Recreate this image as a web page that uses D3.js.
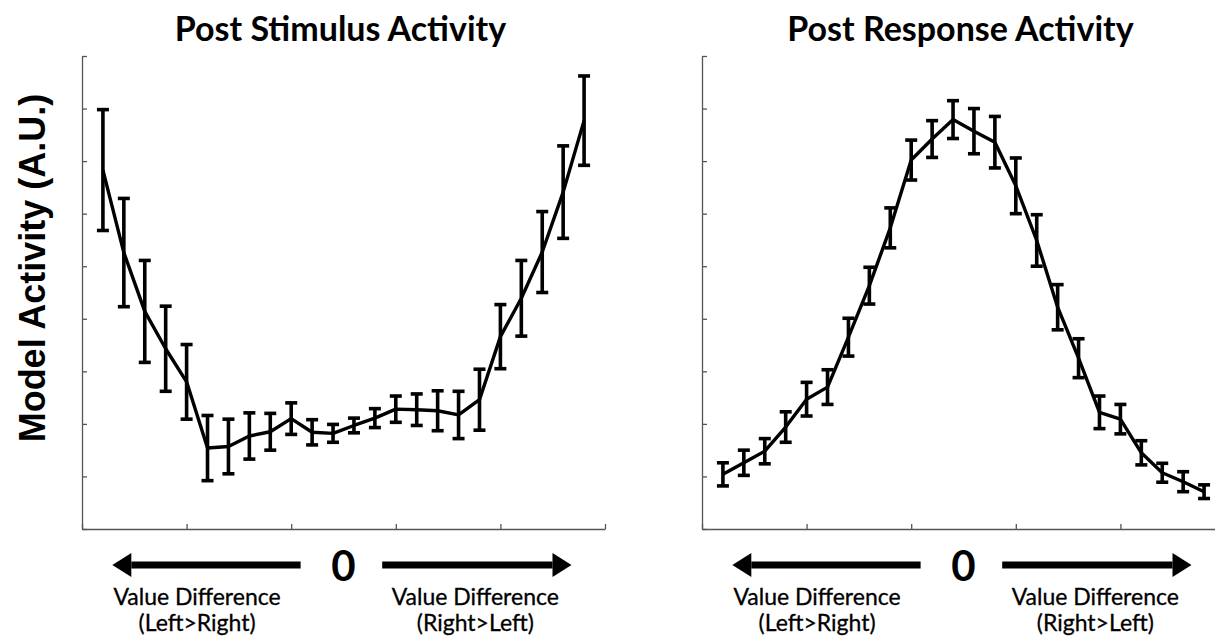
<!DOCTYPE html>
<html>
<head>
<meta charset="utf-8">
<script src="https://cdn.jsdelivr.net/npm/d3@7"></script>
<style>
  body { margin: 0; background: #fff; }
  svg { display: block; }
</style>
</head>
<body>
<svg id="chart" width="1215" height="637"></svg>
<script>
// value-difference bins (24 per panel, centred on 0)
const bins = d3.range(24);

// Post stimulus activity (A.U.)
const stimMean = [6.83, 5.26, 4.14, 3.43, 2.80, 1.54, 1.57, 1.77, 1.85, 2.10, 1.84, 1.82,
                  1.97, 2.11, 2.28, 2.27, 2.25, 2.17, 2.46, 3.66, 4.39, 5.27, 6.41, 7.77];
const stimErr  = [1.15, 1.03, 0.97, 0.81, 0.71, 0.62, 0.52, 0.44, 0.35, 0.30, 0.24, 0.17,
                  0.14, 0.18, 0.25, 0.30, 0.38, 0.45, 0.58, 0.61, 0.72, 0.77, 0.88, 0.85];

// Post response activity (A.U.)
const respMean = [1.04, 1.26, 1.48, 1.94, 2.47, 2.70, 3.65, 4.63, 5.73, 7.02, 7.42, 7.79,
                  7.57, 7.36, 6.53, 5.49, 4.22, 3.25, 2.22, 2.09, 1.45, 1.07, 0.90, 0.71];
const respErr  = [0.22, 0.24, 0.24, 0.29, 0.32, 0.33, 0.36, 0.35, 0.38, 0.38, 0.35, 0.36,
                  0.43, 0.49, 0.53, 0.49, 0.43, 0.37, 0.31, 0.28, 0.23, 0.18, 0.19, 0.13];

const xTicks = [-1, 4, 9, 14, 19, 24];
const yTicks = d3.range(0, 10);
const titles = ["Post Stimulus Activity", "Post Response Activity"];
const leftLabel = ["Value Difference", "(Left>Right)"];
const rightLabel = ["Value Difference", "(Right>Left)"];

class errorLineChart {
    constructor(_config, _data) {
        this.config = {
            parentElement: _config.parentElement,
            left: _config.left,
            width: _config.width || 523,
            top: _config.top || 56,
            bottom: _config.bottom || 529,
            title: _config.title
        }
        this.data = _data;
        this.initVis();
    }

    initVis() {
        let vis = this;
        const svg = d3.select(vis.config.parentElement);

        vis.x = d3.scaleLinear()
            .domain([-1, 24])
            .range([vis.config.left, vis.config.left + vis.config.width]);
        vis.y = d3.scaleLinear()
            .domain([0, 9])
            .range([vis.config.bottom, vis.config.top]);

        vis.g = svg.append("g");

        // axes, ticks pointing inward, no labels
        vis.g.append("g")
            .attr("transform", `translate(0,${vis.config.bottom})`)
            .call(d3.axisBottom(vis.x).tickValues(xTicks).tickSizeInner(-5).tickSizeOuter(0).tickFormat(""))
            .call(g => g.selectAll("path, line").attr("stroke", "#555").attr("stroke-width", 1.3));
        vis.g.append("g")
            .attr("transform", `translate(${vis.config.left},0)`)
            .call(d3.axisLeft(vis.y).tickValues(yTicks).tickSizeInner(-5).tickSizeOuter(0).tickFormat(""))
            .call(g => g.selectAll("path, line").attr("stroke", "#555").attr("stroke-width", 1.3));

        // error bars
        const bars = vis.g.selectAll(".ebar")
            .data(vis.data)
            .enter().append("g")
            .attr("class", "ebar")
            .attr("stroke", "#000")
            .attr("stroke-width", 3.6);
        bars.append("line")
            .attr("x1", d => vis.x(d.bin)).attr("x2", d => vis.x(d.bin))
            .attr("y1", d => vis.y(d.mean + d.err)).attr("y2", d => vis.y(d.mean - d.err));
        bars.append("line")
            .attr("x1", d => vis.x(d.bin) - 6).attr("x2", d => vis.x(d.bin) + 6)
            .attr("y1", d => vis.y(d.mean + d.err)).attr("y2", d => vis.y(d.mean + d.err));
        bars.append("line")
            .attr("x1", d => vis.x(d.bin) - 6).attr("x2", d => vis.x(d.bin) + 6)
            .attr("y1", d => vis.y(d.mean - d.err)).attr("y2", d => vis.y(d.mean - d.err));

        // mean line
        vis.g.append("path")
            .datum(vis.data)
            .attr("fill", "none")
            .attr("stroke", "#000")
            .attr("stroke-width", 3.4)
            .attr("stroke-linejoin", "round")
            .attr("d", d3.line().x(d => vis.x(d.bin)).y(d => vis.y(d.mean)));

        // title
        vis.g.append("text")
            .attr("x", vis.x(11.5) - 3)
            .attr("y", 41)
            .attr("text-anchor", "middle")
            .style("font-family", "Lato, 'Open Sans', sans-serif")
            .style("font-weight", "bold")
            .style("font-size", "34px")
            .text(vis.config.title);

        // direction arrows under the x axis
        const ay = 565;
        const arrows = [[9.45, 0.45], [13.35, 22.4]];
        arrows.forEach(([from, to]) => {
            const dir = Math.sign(to - from);
            const tip = vis.x(to);
            const base = tip - dir * 19;
            vis.g.append("line")
                .attr("x1", vis.x(from)).attr("x2", base)
                .attr("y1", ay).attr("y2", ay)
                .attr("stroke", "#000").attr("stroke-width", 7);
            vis.g.append("path")
                .attr("d", `M${tip},${ay} L${base},${ay - 12} L${base},${ay + 12} Z`)
                .attr("fill", "#000");
        });
        vis.g.append("text")
            .attr("x", vis.x(11.5))
            .attr("y", ay + 16)
            .attr("text-anchor", "middle")
            .style("font-family", "Lato, 'Open Sans', sans-serif")
            .style("font-weight", "bold")
            .style("font-size", "42px")
            .text("0");

        [[4.5, leftLabel], [17.8, rightLabel]].forEach(([pos, lines]) => {
            const t = vis.g.append("text")
                .attr("text-anchor", "middle")
                .style("font-family", "Lato, 'Open Sans', sans-serif")
                .style("font-size", "23px")
                .attr("fill", "#000")
                .attr("stroke", "#000")
                .attr("stroke-width", 0.3);
            lines.forEach((s, i) => {
                t.append("tspan")
                    .attr("x", vis.x(pos))
                    .attr("y", 605 + i * 26)
                    .text(s);
            });
        });
    }
}

const svg = d3.select("#chart");
svg.append("rect").attr("width", 1215).attr("height", 637).attr("fill", "#fff");

new errorLineChart({parentElement: "#chart", left: 82, title: titles[0]},
    bins.map((b, i) => ({bin: b, mean: stimMean[i], err: stimErr[i]})));
new errorLineChart({parentElement: "#chart", left: 702, title: titles[1]},
    bins.map((b, i) => ({bin: b, mean: respMean[i], err: respErr[i]})));

// shared y label
svg.append("text")
    .attr("transform", "translate(45,268) rotate(-90)")
    .attr("text-anchor", "middle")
    .style("font-family", "'Liberation Sans', Arial, sans-serif")
    .style("font-weight", "bold")
    .style("font-size", "36px")
    .text("Model Activity (A.U.)");
</script>
</body>
</html>
